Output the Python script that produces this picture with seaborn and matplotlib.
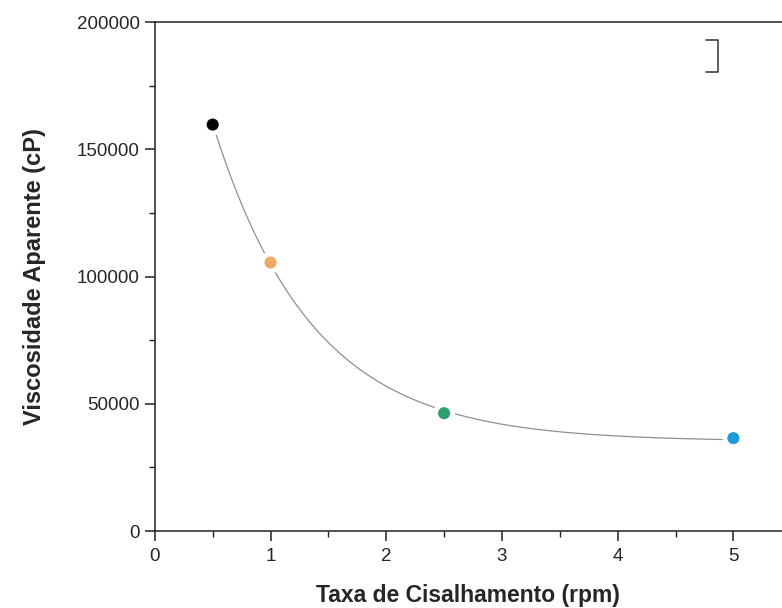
import numpy as np
import pandas as pd
import matplotlib
matplotlib.use("Agg")
import matplotlib.pyplot as plt
import seaborn as sns

# Data
rate_rpm = [0.5, 1.0, 2.5, 5.0]
viscosity_cp = [159700, 105500, 46300, 36500]
point_colors = ["#050505", "#f0aa62", "#2f9f72", "#1f9ad6"]
x_ticks = [0, 1, 2, 3, 4, 5]
y_ticks = [0, 50000, 100000, 150000, 200000]

sns.set_theme(style="ticks")
plt.rcParams["font.family"] = ["Liberation Sans", "DejaVu Sans"]

df = pd.DataFrame({"rate": rate_rpm, "visc": viscosity_cp, "c": point_colors})

# Exponential decay fit y = y0 + A*exp(-x/t) (like Origin ExpDec1)
x = np.array(rate_rpm, dtype=float)
y = np.array(viscosity_cp, dtype=float)
best = None
for t in np.linspace(0.2, 3.0, 2801):
    M = np.column_stack([np.ones_like(x), np.exp(-x / t)])
    coef, *_ = np.linalg.lstsq(M, y, rcond=None)
    err = np.sum((M @ coef - y) ** 2)
    if best is None or err < best[0]:
        best = (err, t, coef)
_, t_fit, (y0_fit, a_fit) = best
xs = np.linspace(min(rate_rpm), max(rate_rpm), 300)
fit_df = pd.DataFrame({"rate": xs, "visc": y0_fit + a_fit * np.exp(-xs / t_fit)})

fig = plt.figure(figsize=(7.82, 6.08), dpi=100)
ax = fig.add_axes([0.198, 0.1266, 0.802, 0.8372])

sns.lineplot(data=fit_df, x="rate", y="visc", ax=ax, color="#8f8f8f", linewidth=0.9, zorder=2)
sns.scatterplot(data=df, x="rate", y="visc", hue="c", palette=dict(zip(point_colors, point_colors)),
                s=150, edgecolor="white", linewidth=3.5, legend=False, ax=ax, zorder=3)

ax.set_xlim(0, 5.42)
ax.set_ylim(0, 200000)
ax.set_xticks(x_ticks)
ax.set_yticks(y_ticks)
ax.set_xticks(np.arange(0.5, 5.5, 1.0), minor=True)
ax.set_yticks(np.arange(25000, 200000, 50000), minor=True)
ax.set_xticklabels([str(v) for v in x_ticks], fontsize=13.5)
ax.set_yticklabels([str(v) for v in y_ticks], fontsize=13.5)
ax.tick_params(axis="both", which="major", direction="out", length=7, width=1.1, color="#222222", pad=4)
ax.tick_params(axis="both", which="minor", direction="out", length=4, width=1.0, color="#222222")
ax.tick_params(axis="x", pad=5)

for s in ["left", "bottom", "top"]:
    ax.spines[s].set_linewidth(1.1)
    ax.spines[s].set_color("#222222")
ax.spines["right"].set_visible(False)

ax.set_xlabel("Taxa de Cisalhamento (rpm)", fontsize=16.5, fontweight="bold", labelpad=14)
ax.set_ylabel("Viscosidade Aparente (cP)", fontsize=17, fontweight="bold", labelpad=22)

# small bracket remnant at top right
ax.plot([0.879, 0.898, 0.898, 0.879], [0.965, 0.965, 0.902, 0.902],
        transform=ax.transAxes, color="#333333", linewidth=1.1, clip_on=False)

fig.savefig("out.png", dpi=100)
